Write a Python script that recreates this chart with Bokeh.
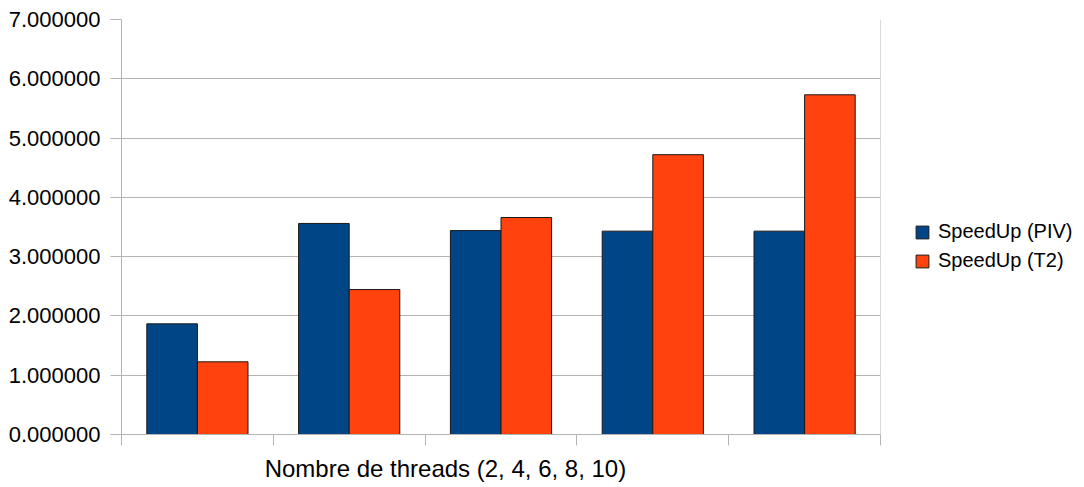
from bokeh.plotting import figure
from bokeh.layouts import row
from bokeh.models import (ColumnDataSource, FixedTicker, PrintfTickFormatter,
                          Legend, LegendItem, Span, LinearAxis, Range1d,
                          CustomJSTickFormatter)
from bokeh.embed import file_html
from bokeh.resources import INLINE

# Thread counts and measured speed-ups for the two machines
threads = ["2", "4", "6", "8", "10"]
speedup_piv = [1.867, 3.560, 3.440, 3.430, 3.430]
speedup_t2 = [1.226, 2.445, 3.660, 4.720, 5.730]
y_ticks = [0, 1, 2, 3, 4, 5, 6, 7]
x_title = "Nombre de threads (2, 4, 6, 8, 10)"
series_names = ["SpeedUp (PIV)", "SpeedUp (T2)"]

BLUE = "#004586"
ORANGE = "#ff420e"
GRID = "#b3b3b3"
EDGE = "#1a1a1a"
FONT = "Liberation Sans"

idx = list(range(len(threads)))
src = ColumnDataSource(dict(
    x_piv=[i + 1 / 3 for i in idx],
    x_t2=[i + 2 / 3 for i in idx],
    piv=speedup_piv,
    t2=speedup_t2,
))

MAIN_W = 885
p = figure(width=MAIN_W, height=487, output_backend="svg", toolbar_location=None,
           x_range=(0, len(threads)), y_range=(0, 7))
p.min_border_left = 121
p.min_border_right = MAIN_W - 880
p.min_border_top = 19
p.min_border_bottom = 53
p.outline_line_color = None
p.background_fill_color = "white"

p.vbar(x="x_piv", top="piv", width=1 / 3, source=src,
       fill_color=BLUE, line_color=EDGE, line_width=1)
p.vbar(x="x_t2", top="t2", width=1 / 3, source=src,
       fill_color=ORANGE, line_color=EDGE, line_width=1)

# y axis
p.yaxis.ticker = FixedTicker(ticks=y_ticks)
p.yaxis.formatter = PrintfTickFormatter(format="%.6f")
p.yaxis.axis_line_color = GRID
p.yaxis.major_tick_line_color = GRID
p.yaxis.major_tick_out = 11
p.yaxis.major_tick_in = 0
p.yaxis.minor_tick_line_color = None
p.yaxis.major_label_text_font = FONT
p.yaxis.major_label_text_font_size = "22px"
p.yaxis.major_label_text_color = "#000000"
p.yaxis.major_label_standoff = 10

# x axis: category boundaries only, no labels
p.xaxis.ticker = FixedTicker(ticks=[float(i) for i in range(len(threads) + 1)])
p.xaxis.formatter = CustomJSTickFormatter(code="return ''")
p.xaxis.axis_line_color = GRID
p.xaxis.major_tick_line_color = GRID
p.xaxis.major_tick_out = 11
p.xaxis.major_tick_in = 0
p.xaxis.minor_tick_line_color = None
p.xaxis.major_label_text_font_size = "1px"
p.xaxis.major_label_standoff = 0

# a bare axis underneath that only carries the axis title
title_pos = 2.134
title_axis = LinearAxis(ticker=FixedTicker(ticks=[title_pos]),
                        major_label_overrides={title_pos: x_title},
                        axis_line_color=None, major_tick_line_color=None,
                        minor_tick_line_color=None, major_tick_out=0,
                        major_tick_in=0, major_label_standoff=9,
                        major_label_text_font=FONT,
                        major_label_text_font_size="24px",
                        major_label_text_color="#000000")
p.add_layout(title_axis, "below")

p.xgrid.grid_line_color = None
p.ygrid.ticker = FixedTicker(ticks=y_ticks)
p.ygrid.grid_line_color = GRID
p.ygrid.grid_line_width = 1

# right border of the plot area
p.add_layout(Span(location=len(threads), dimension="height",
                  line_color=GRID, line_width=1))

# legend panel to the right of the chart; its swatch renderers sit outside
# the visible range so only the legend entries show
LEG_W = 1084 - MAIN_W
q = figure(width=LEG_W, height=487, output_backend="svg", toolbar_location=None,
           x_axis_location=None, y_axis_location=None,
           x_range=Range1d(0, 1), y_range=Range1d(0, 1))
q.min_border_left = 0
q.min_border_right = 0
q.min_border_top = 0
q.min_border_bottom = 0
q.outline_line_color = None
q.xgrid.grid_line_color = None
q.ygrid.grid_line_color = None
k_piv = q.vbar(x=[5], top=[5], bottom=[4], width=0.1,
               fill_color=BLUE, line_color=EDGE)
k_t2 = q.vbar(x=[5], top=[5], bottom=[4], width=0.1,
              fill_color=ORANGE, line_color=EDGE)

legend = Legend(items=[LegendItem(label=series_names[0], renderers=[k_piv]),
                       LegendItem(label=series_names[1], renderers=[k_t2])],
                location=(914 - MAIN_W, 162), orientation="vertical",
                glyph_width=16, glyph_height=16, spacing=6,
                label_standoff=8, padding=0, margin=0,
                border_line_color=None, background_fill_alpha=0,
                label_text_font=FONT, label_text_font_size="20px",
                label_text_color="#000000")
q.add_layout(legend, "center")

layout = row(p, q, spacing=0)
open("out.html", "w").write(file_html(layout, INLINE))
